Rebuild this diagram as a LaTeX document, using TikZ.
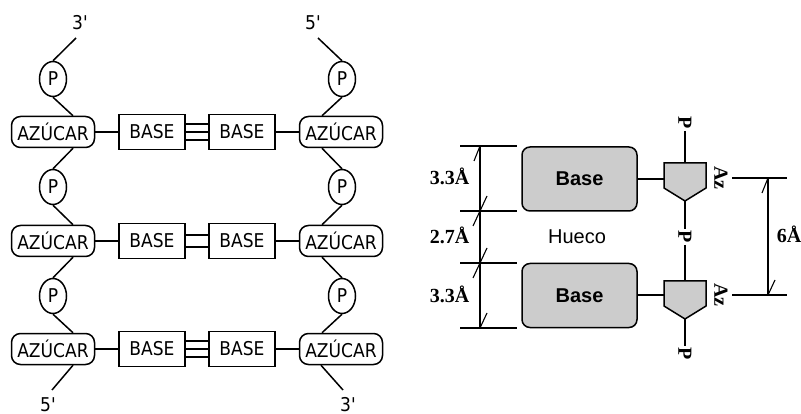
\documentclass[tikz,border=0pt]{standalone}
\usepackage{fontspec}
\setmainfont{Liberation Serif}
\newfontfamily\djs[FakeStretch=0.9]{DejaVu Sans}
\newfontfamily\lsans{Liberation Sans}
\usetikzlibrary{shapes.geometric}
\begin{document}
\begin{tikzpicture}[x=1pt,y=-1pt, line width=1.5pt,
 lbl/.style={font=\djs\fontsize{19}{22}\selectfont, inner sep=0pt},
 az/.style={draw, rounded corners=9pt, minimum width=83pt, minimum height=31pt, inner sep=0pt, font=\djs\fontsize{19}{22}\selectfont},
 basebox/.style={draw, minimum width=66pt, minimum height=35pt, inner sep=0pt, font=\djs\fontsize{19}{22}\selectfont},
 pc/.style={draw, ellipse, minimum width=27pt, minimum height=35pt, inner sep=0pt, font=\djs\fontsize{19}{22}\selectfont},
 gbox/.style={draw, fill=gray!40, rounded corners=8pt, minimum width=115pt, minimum height=64pt, inner sep=0pt, font=\lsans\bfseries\fontsize{20}{24}\selectfont},
 serif/.style={font=\bfseries\fontsize{20}{23}\selectfont, inner sep=1pt},
 rot/.style={serif, rotate=-90},
 tick/.style={line width=1.1pt},
]
\useasboundingbox (0,0) rectangle (801,414);

% ---------- left: double strand ----------
\foreach \i/\ya/\yp in {1/132/79, 2/241/187, 3/349/296} {
  \node[az] (L\i) at (53,\ya) {AZÚCAR};
  \node[az] (R\i) at (341,\ya) {AZÚCAR};
  \node[basebox] (BL\i) at (152,\ya) {BASE};
  \node[basebox] (BR\i) at (242,\ya) {BASE};
  \node[pc] (PL\i) at (53,\yp) {P};
  \node[pc] (PR\i) at (342,\yp) {P};
  \draw (L\i) -- (BL\i);
  \draw (BR\i) -- (R\i);
}
% hydrogen bonds
\draw ([yshift=8pt]BL1.east) -- ([yshift=8pt]BR1.west);
\draw (BL1) -- (BR1);
\draw ([yshift=-8pt]BL1.east) -- ([yshift=-8pt]BR1.west);
\draw ([yshift=6pt]BL2.east) -- ([yshift=6pt]BR2.west);
\draw ([yshift=-6pt]BL2.east) -- ([yshift=-6pt]BR2.west);
\draw ([yshift=8pt]BL3.east) -- ([yshift=8pt]BR3.west);
\draw (BL3) -- (BR3);
\draw ([yshift=-8pt]BL3.east) -- ([yshift=-8pt]BR3.west);

% strand ends
\coordinate (T3) at (76,38);
\coordinate (T5) at (318,38);
\coordinate (B5) at (52,390);
\coordinate (B3) at (343,390);
\node[lbl, anchor=base] (t3) at (80,30) {3'};
\node[lbl, anchor=base] (t5) at (313,30) {5'};
\node[lbl, anchor=base] (b5) at (48,411) {5'};
\node[lbl, anchor=base] (b3) at (348,411) {3'};

% left strand
\draw (T3) -- (PL1.north);
\draw (PL1.south) -- ([xshift=20pt]L1.north);
\draw ([xshift=20pt]L1.south) -- (PL2.north);
\draw (PL2.south) -- ([xshift=20pt]L2.north);
\draw ([xshift=20pt]L2.south) -- (PL3.north);
\draw (PL3.south) -- ([xshift=20pt]L3.north);
\draw ([xshift=20pt]L3.south) -- (B5);
% right strand
\draw (T5) -- (PR1.north);
\draw (PR1.south) -- ([xshift=-19pt]R1.north);
\draw ([xshift=-19pt]R1.south) -- (PR2.north);
\draw (PR2.south) -- ([xshift=-19pt]R2.north);
\draw ([xshift=-19pt]R2.south) -- (PR3.north);
\draw (PR3.south) -- ([xshift=-19pt]R3.north);
\draw ([xshift=-20pt]R3.south) -- (B3);

% ---------- right: stacking ----------
\node[gbox] (G1) at (579.5,179) {Base};
\node[gbox] (G2) at (579.5,295.5) {Base};
\node[font=\lsans\fontsize{20}{24}\selectfont] (hueco) at (577,237) {Hueco};

\draw[fill=gray!40] (664,163) -- (706,163) -- (706,188) -- (685,201) -- (664,188) -- cycle;
\draw[fill=gray!40] (664,281) -- (706,281) -- (706,306) -- (685,319) -- (664,306) -- cycle;
\coordinate (S1l) at (664,179);
\coordinate (S1t) at (685,163);
\coordinate (S1b) at (685,201);
\coordinate (S2l) at (664,295);
\coordinate (S2t) at (685,281);
\coordinate (S2b) at (685,319);

\draw (G1.east |- S1l) -- (S1l);
\draw (G2.east |- S2l) -- (S2l);

\node[rot] (Pa) at (685,123) {P};
\node[rot] (Pb) at (685,237) {P};
\node[rot] (Pc) at (685,354) {P};
\draw (Pa) -- (S1t);
\draw (S1b) -- (Pb);
\draw (Pb) -- (S2t);
\draw (S2b) -- (Pc);

\node[rot] (Az1) at (721,178) {Az};
\node[rot] (Az2) at (721,295) {Az};

% dimensions left
\draw (460,146) -- (517,146);
\draw (460,211) -- (517,211);
\draw (460,263) -- (517,263);
\draw (460,328) -- (517,328);
\draw (480,146) -- (480,328);
\draw[tick] (474,161) -- (480,146);
\draw[tick] (487,196) -- (473,226);
\draw[tick] (487,248) -- (473,278);
\draw[tick] (487,313) -- (480,328);
\node[serif, anchor=base east] (d1) at (471,185) {3.3Å};
\node[serif, anchor=base east] (d2) at (471,244) {2.7Å};
\node[serif, anchor=base east] (d3) at (471,302) {3.3Å};

% dimension right
\draw (732,178) -- (787,178);
\draw (732,295) -- (787,295);
\draw (768,178) -- (768,295);
\draw[tick] (768,178) -- (762,193);
\draw[tick] (775,280) -- (768,295);
\node[serif, anchor=base west] (d6) at (775,243) {6Å};
\end{tikzpicture}
\end{document}
